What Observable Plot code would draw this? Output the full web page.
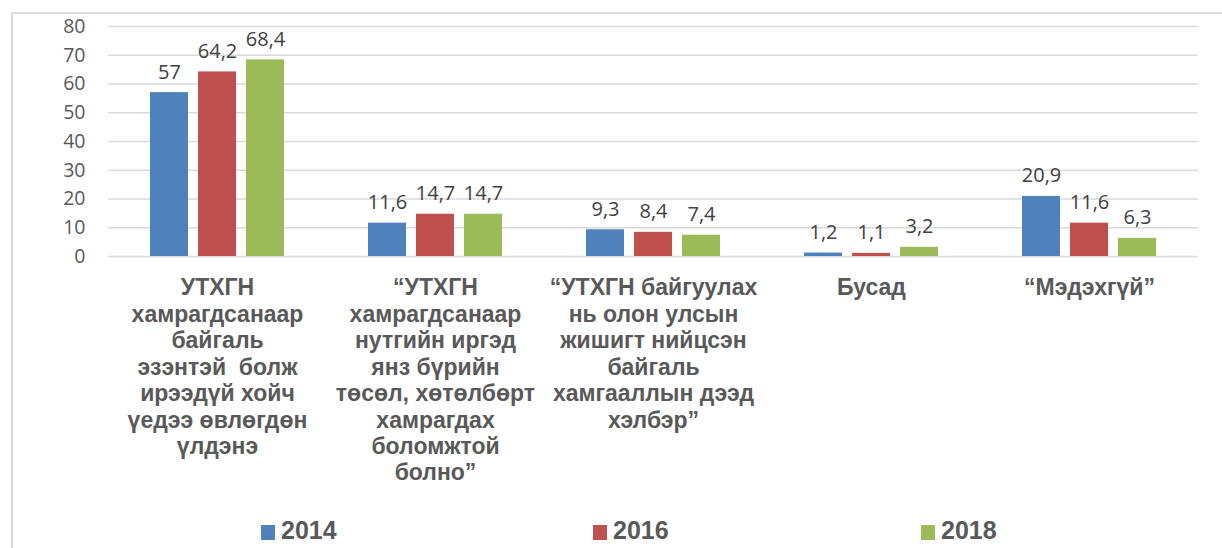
<!DOCTYPE html>
<html>
<head>
<meta charset="utf-8">
<script src="https://cdn.jsdelivr.net/npm/d3@7"></script>
<script src="https://cdn.jsdelivr.net/npm/@observablehq/plot@0.6"></script>
<style>
  html, body { margin: 0; padding: 0; background: #fff; }
  #wrap { position: relative; width: 1222px; height: 548px; overflow: hidden; }
  #frame { position: absolute; left: 11px; top: 12px; width: 1400px; height: 700px;
           border-left: 2px solid #d9d9d9; border-top: 2px solid #d9d9d9; box-sizing: border-box; }
  #chart { position: absolute; left: 0; top: 0; }
  .leg { position: absolute; top: 516px; font-family: "Liberation Sans", Arial, sans-serif;
         font-weight: bold; font-size: 25px; color: #595959; line-height: 28px; white-space: nowrap; }
  .leg .sw { display: inline-block; width: 14px; height: 15px; margin-right: 6px; vertical-align: -1px; }
</style>
</head>
<body>
<div id="wrap">
  <div id="frame"></div>
  <div id="chart"></div>
  <div id="legend"></div>
</div>
<script>
const categories = [
  "УТХГН\nхамрагдсанаар\nбайгаль\nэзэнтэй  болж\nирээдүй хойч\nүедээ өвлөгдөн\nүлдэнэ",
  "“УТХГН\nхамрагдсанаар\nнутгийн иргэд\nянз бүрийн\nтөсөл, хөтөлбөрт\nхамрагдах\nболомжтой\nболно”",
  "“УТХГН байгуулах\nнь олон улсын\nжишигт нийцсэн\nбайгаль\nхамгааллын дээд\nхэлбэр”",
  "Бусад",
  "“Мэдэхгүй”"
];
const years = ["2014", "2016", "2018"];
const values2014 = [57, 11.6, 9.3, 1.2, 20.9];
const values2016 = [64.2, 14.7, 8.4, 1.1, 11.6];
const values2018 = [68.4, 14.7, 7.4, 3.2, 6.3];
const colors = ["#4f81bd", "#c0504d", "#9bbb59"];
const yTicks = [0, 10, 20, 30, 40, 50, 60, 70, 80];

const series = [values2014, values2016, values2018];
const rows = [];
categories.forEach((c, i) => {
  years.forEach((y, j) => rows.push({cat: c, year: y, value: series[j][i]}));
});
const fmt = v => String(v).replace(".", ",");

const chart = Plot.plot({
  width: 1222,
  height: 500,
  marginLeft: 108,
  marginRight: 24,
  marginTop: 26,
  marginBottom: 244,
  style: {fontFamily: "'Open Sans', sans-serif", background: "transparent"},
  fx: {domain: categories, padding: 0, label: null},
  x: {domain: years, paddingInner: 0.213, paddingOuter: 0.863, axis: null, label: null},
  y: {domain: [0, 80], label: null},
  color: {domain: years, range: colors},
  marks: [
    Plot.gridY(yTicks, {stroke: "#d9d9d9", strokeOpacity: 1, strokeWidth: 1.5}),
    Plot.barY(rows, {fx: "cat", x: "year", y: "value", fill: "year"}),
    Plot.text(rows, {fx: "cat", x: "year", y: "value", text: d => fmt(d.value),
      lineAnchor: "bottom", dy: -14, fontSize: 20, fill: "#404040"}),
    Plot.axisY(yTicks, {tickSize: 0, tickPadding: 23, fontSize: 19.5, fill: "#595959",
      label: null, tickFormat: d => String(d)}),
    Plot.axisFx({anchor: "bottom", tickSize: 0, tickPadding: 20, fontSize: 23,
      fontWeight: "bold", fontFamily: "'Liberation Sans', Arial, sans-serif",
      lineHeight: 1.15, fill: "#595959", label: null, tickFormat: d => d})
  ]
});
document.getElementById("chart").appendChild(chart);

const legend = document.getElementById("legend");
const legX = [261, 593, 921];
years.forEach((y, i) => {
  const el = document.createElement("div");
  el.className = "leg";
  el.style.left = legX[i] + "px";
  el.innerHTML = `<span class="sw" style="background:${colors[i]}"></span>${y}`;
  legend.appendChild(el);
});
</script>
</body>
</html>
